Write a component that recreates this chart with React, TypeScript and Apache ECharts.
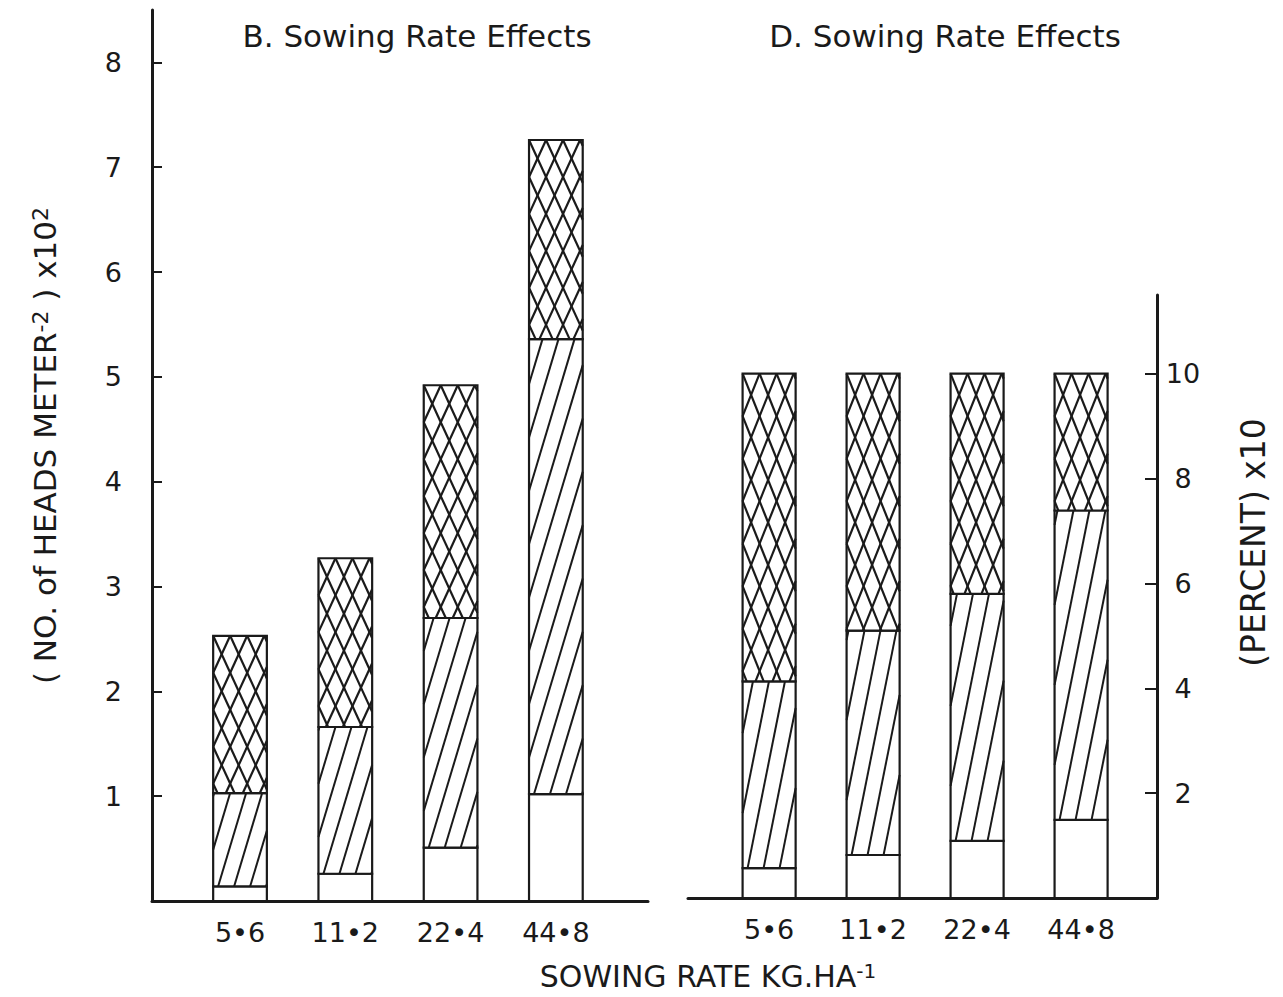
import React, { useEffect, useRef } from 'react';
import * as echarts from 'echarts';

// Sowing rates (kg/ha) shown along both panels
const categories = ['5•6', '11•2', '22•4', '44•8'];

// Panel B: heads per square metre (x10^2), segment heights from the bottom up
const headsPlain = [0.14, 0.26, 0.51, 1.02];
const headsHatched = [0.89, 1.4, 2.19, 4.34];
const headsCross = [1.5, 1.61, 2.22, 1.9];

// Panel D: the same segments as percent (x10)
const pctPlain = [0.57, 0.82, 1.09, 1.49];
const pctHatched = [3.56, 4.28, 4.71, 5.9];
const pctCross = [5.87, 4.9, 4.2, 2.61];

const headsTicks = [1, 2, 3, 4, 5, 6, 7, 8];
const pctTicks = [2, 4, 6, 8, 10];

const INK = '#1a1a1a';
const FONT = 'DejaVu Sans';
const BAR_W = 0.51;

type Seg = [number, number, number, number];

// kind: 0 = open, 1 = single hatch, 2 = cross hatch
function stackSegments(plain: number[], hatched: number[], cross: number[]): Seg[] {
  const out: Seg[] = [];
  plain.forEach((p, i) => {
    const a = p;
    const b = a + hatched[i];
    const c = b + cross[i];
    out.push([i, 0, a, 0], [i, a, b, 1], [i, b, c, 2]);
  });
  return out;
}

// One family of parallel lines x = c + k * (yb - y), clipped to the rectangle
function hatchFamily(
  xl: number, xr: number, yt: number, yb: number,
  k: number, step: number, ax: number, ay: number, lw: number
) {
  const H = yb - yt;
  const lines: any[] = [];
  if (H <= 1) return lines;
  const base = ax - k * (yb - ay);
  const cMin = Math.min(xl, xl - k * H) - step;
  const cMax = Math.max(xr, xr - k * H) + step;
  const n0 = Math.ceil((cMin - base) / step);
  for (let c = base + n0 * step; c <= cMax; c += step) {
    let t0 = (xl - c) / k;
    let t1 = (xr - c) / k;
    if (t0 > t1) [t0, t1] = [t1, t0];
    t0 = Math.max(t0, 0);
    t1 = Math.min(t1, H);
    if (t1 - t0 < 0.5) continue;
    lines.push({
      type: 'line',
      shape: { x1: c + k * t0, y1: yb - t0, x2: c + k * t1, y2: yb - t1 },
      style: { stroke: INK, lineWidth: lw },
    });
  }
  return lines;
}

function makeRenderItem(hatchK: number, crossK: number) {
  return (_params: any, api: any) => {
    const i = api.value(0);
    const v0 = api.value(1);
    const v1 = api.value(2);
    const kind = api.value(3);
    const pb = api.coord([i, v0]);
    const pt = api.coord([i, v1]);
    const w = api.size([BAR_W, 0])[0];
    const xl = pb[0] - w / 2;
    const xr = xl + w;
    const yb = pb[1];
    const yt = pt[1];
    const children: any[] = [
      { type: 'rect', shape: { x: xl, y: yt, width: w, height: yb - yt }, style: { fill: '#fff' } },
    ];
    if (kind === 1) {
      children.push(...hatchFamily(xl, xr, yt, yb, hatchK, 16, xl + 5, yb, 2));
    } else if (kind === 2) {
      children.push(...hatchFamily(xl, xr, yt, yb, crossK, 17, xl, yt, 2.2));
      children.push(...hatchFamily(xl, xr, yt, yb, -crossK, 17, xl, yt, 2.2));
    }
    children.push({
      type: 'rect',
      shape: { x: xl, y: yt, width: w, height: yb - yt },
      style: { fill: 'none', stroke: INK, lineWidth: 2.2 },
    });
    return { type: 'group', children };
  };
}

const labelStyle = { fontFamily: FONT, fontSize: 27, color: INK };

function xAxisFor(gridIndex: number, min: number, max: number) {
  return {
    gridIndex,
    type: 'value',
    min,
    max,
    axisLine: { show: true, onZero: false, lineStyle: { color: INK, width: 3 } },
    axisTick: { show: false },
    splitLine: { show: false },
    axisLabel: {
      ...labelStyle,
      margin: 18,
      customValues: [0, 1, 2, 3],
      formatter: (v: number) => categories[Math.round(v)] ?? '',
    },
  };
}

export default function App() {
  const ref = useRef<HTMLDivElement>(null);

  useEffect(() => {
    document.body.style.margin = '0';
    const chart = echarts.init(ref.current!, null, { renderer: 'svg' });
    chart.setOption({
      animation: false,
      backgroundColor: '#fff',
      grid: [
        { left: 152, right: 1283 - 648, top: 10, bottom: 997 - 901 },
        { left: 688, right: 1283 - 1157, top: 295, bottom: 997 - 898 },
      ],
      xAxis: [xAxisFor(0, -0.836, 3.875), xAxisFor(1, -0.78, 3.73)],
      yAxis: [
        {
          gridIndex: 0,
          type: 'value',
          position: 'left',
          min: 0,
          max: 8.5,
          axisLine: { show: true, onZero: false, lineStyle: { color: INK, width: 3 } },
          axisTick: { show: true, inside: true, length: 10, customValues: headsTicks, lineStyle: { color: INK, width: 2 } },
          splitLine: { show: false },
          axisLabel: { ...labelStyle, margin: 30, customValues: headsTicks, padding: [0, 0, 14, 0] },
          name: '( NO. of HEADS METER{sup|-2} ) x10{sup|2}',
          nameLocation: 'middle',
          nameRotate: 90,
          nameGap: 92,
          nameTextStyle: {
            fontFamily: FONT,
            fontSize: 31,
            color: INK,
            padding: [0, 0, 0, 20],
            rich: { sup: { fontFamily: FONT, fontSize: 22, color: INK, verticalAlign: 'top' } },
          },
        },
        {
          gridIndex: 1,
          type: 'value',
          position: 'right',
          min: 0,
          max: 11.5,
          axisLine: { show: true, onZero: false, lineStyle: { color: INK, width: 3 } },
          axisTick: { show: true, inside: true, length: 12, customValues: pctTicks, lineStyle: { color: INK, width: 2 } },
          splitLine: { show: false },
          axisLabel: { ...labelStyle, margin: 26, align: 'center', customValues: pctTicks, padding: [0, 0, 12, 0] },
          name: '(PERCENT) x10',
          nameLocation: 'middle',
          nameRotate: 90,
          nameGap: 80,
          nameTextStyle: { fontFamily: FONT, fontSize: 33, color: INK, padding: [0, 0, 0, 108] },
        },
      ],
      graphic: [
        {
          type: 'text',
          x: 417,
          y: 36,
          style: { text: 'B. Sowing Rate Effects', font: `31px "${FONT}"`, fill: INK, textAlign: 'center', textVerticalAlign: 'middle' },
        },
        {
          type: 'text',
          x: 945,
          y: 36,
          style: { text: 'D. Sowing Rate Effects', font: `31px "${FONT}"`, fill: INK, textAlign: 'center', textVerticalAlign: 'middle' },
        },
        {
          type: 'text',
          x: 708,
          y: 976,
          style: {
            text: 'SOWING RATE KG.HA{sup|-1}',
            font: `30px "${FONT}"`,
            fill: INK,
            textAlign: 'center',
            textVerticalAlign: 'middle',
            rich: { sup: { fontFamily: FONT, fontSize: 20, fill: INK, verticalAlign: 'top' } },
          },
        },
      ],
      series: [
        {
          type: 'custom',
          xAxisIndex: 0,
          yAxisIndex: 0,
          data: stackSegments(headsPlain, headsHatched, headsCross),
          encode: { x: 0, y: [1, 2] },
          renderItem: makeRenderItem(0.3, 0.46),
        },
        {
          type: 'custom',
          xAxisIndex: 1,
          yAxisIndex: 1,
          data: stackSegments(pctPlain, pctHatched, pctCross),
          encode: { x: 0, y: [1, 2] },
          renderItem: makeRenderItem(0.2, 0.4),
        },
      ],
    });
    return () => chart.dispose();
  }, []);

  return <div ref={ref} style={{ position: 'absolute', left: 0, top: 0, width: 1283, height: 997 }} />;
}
